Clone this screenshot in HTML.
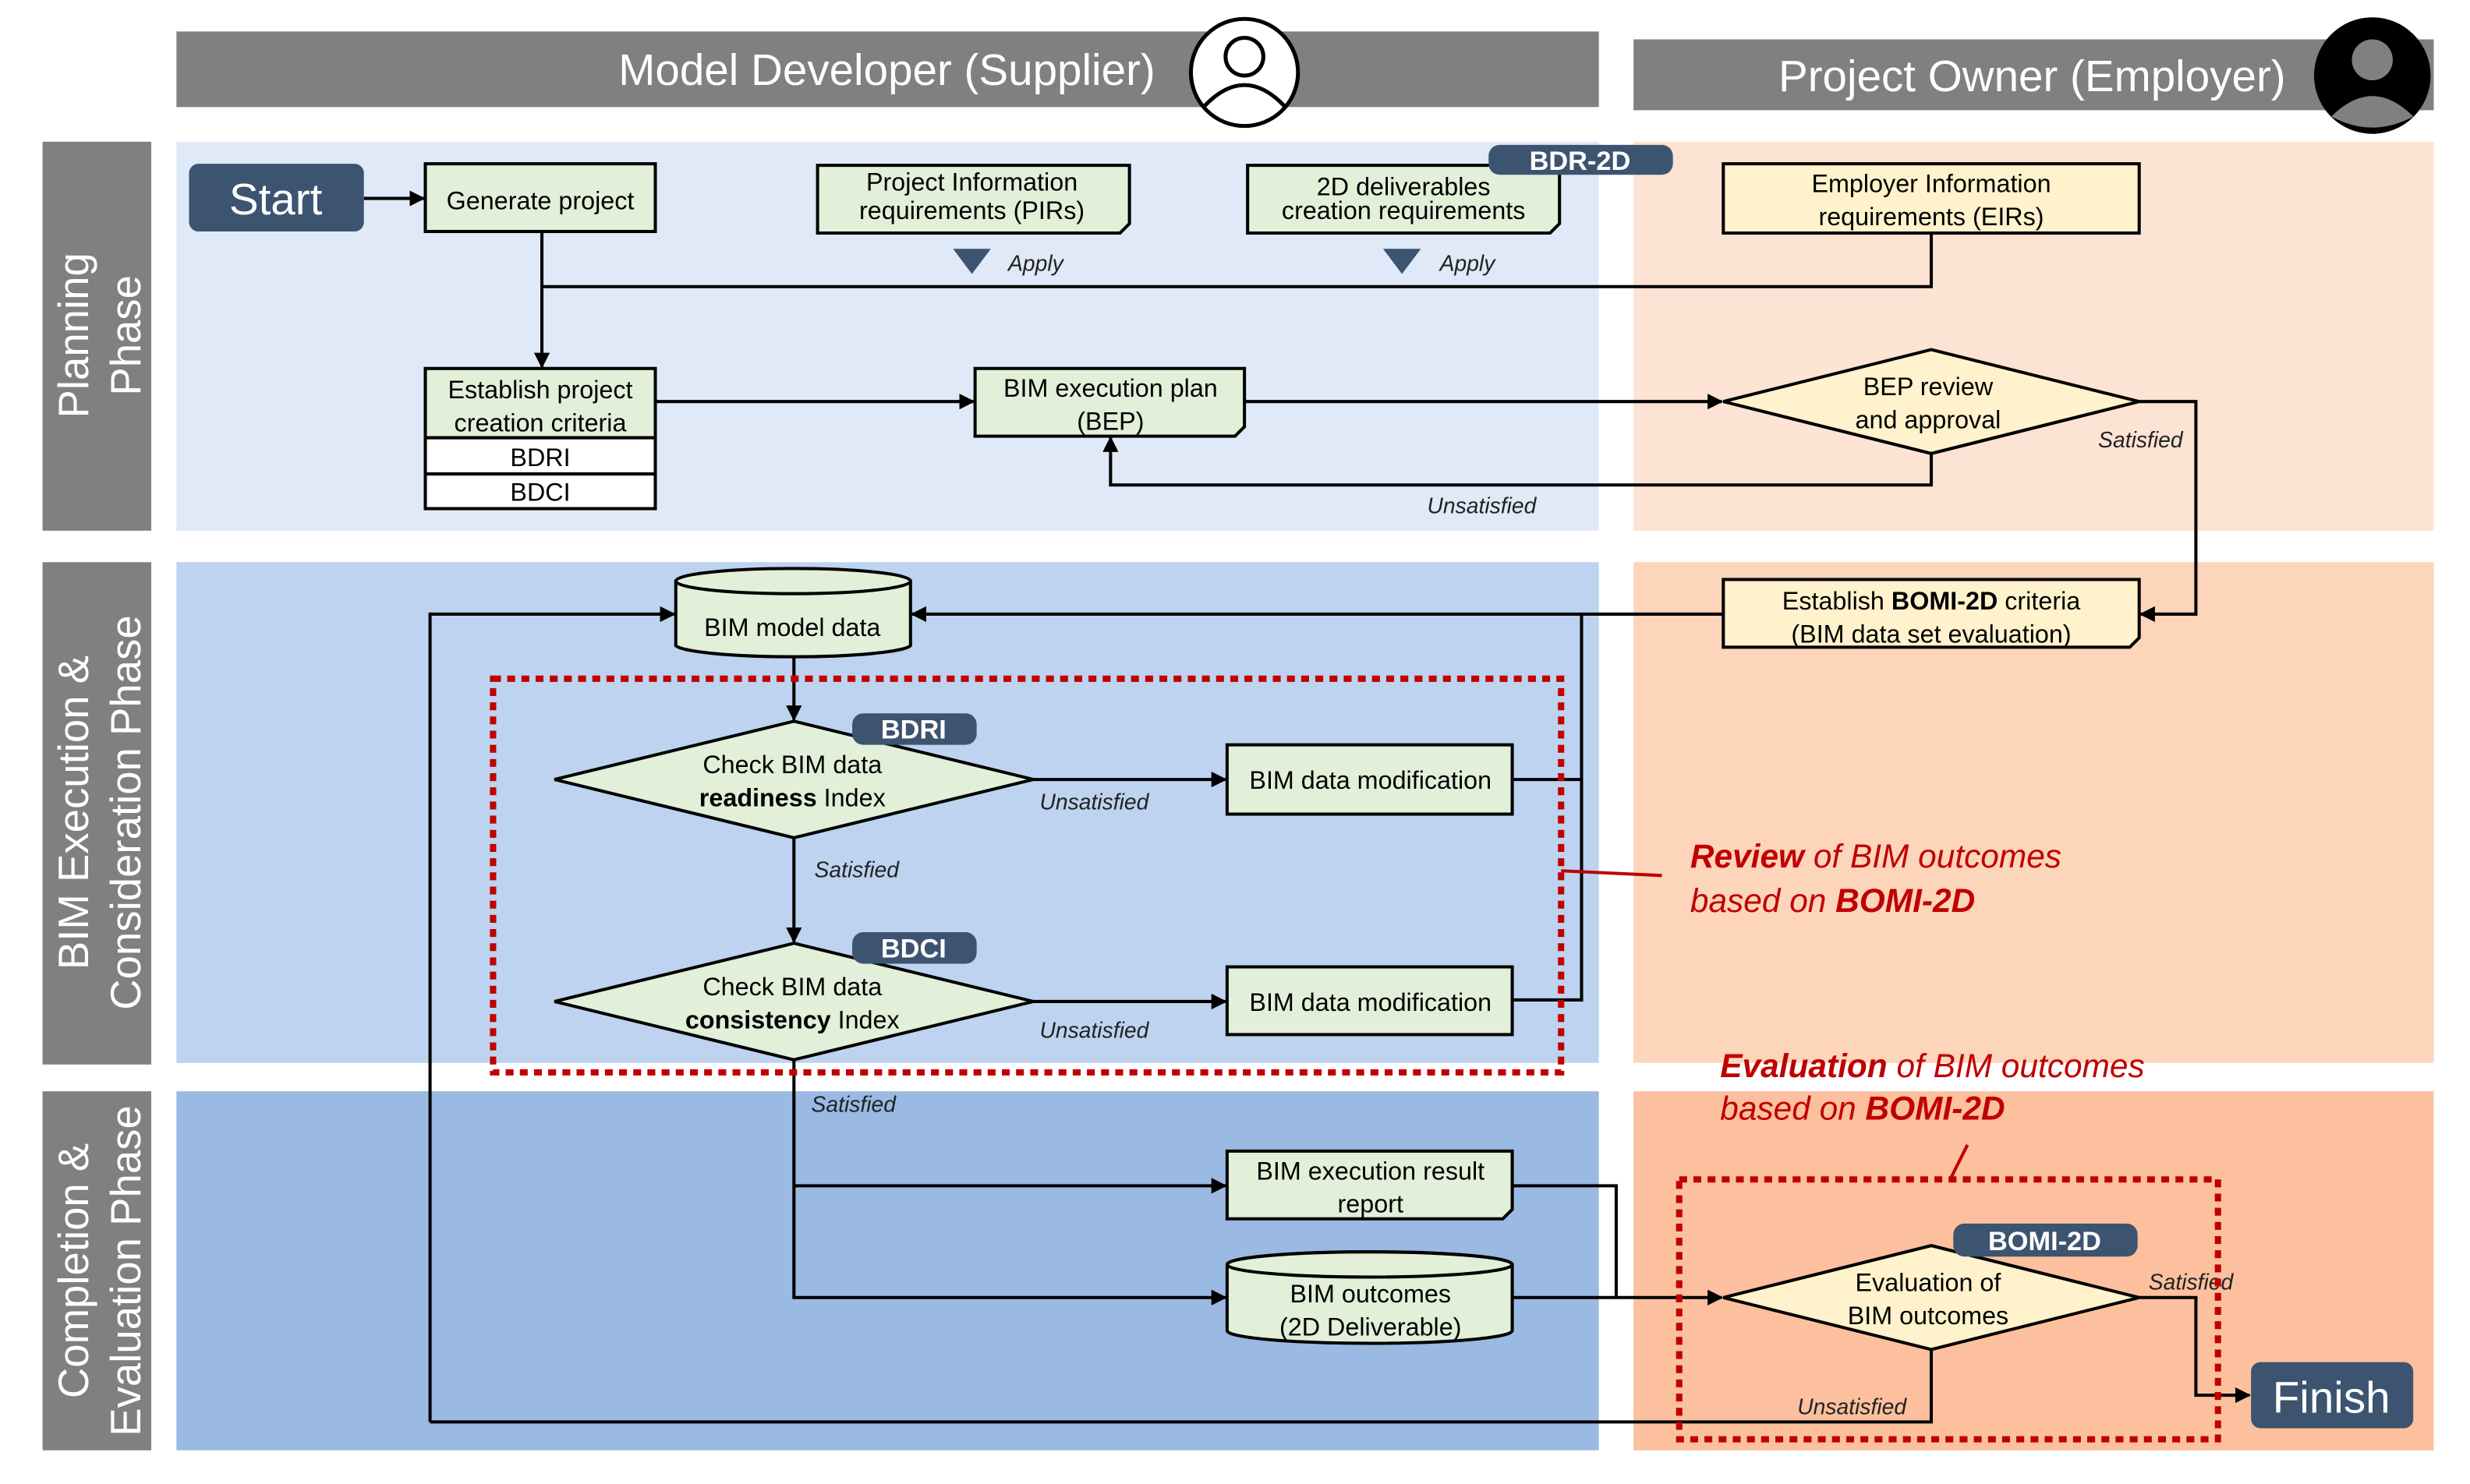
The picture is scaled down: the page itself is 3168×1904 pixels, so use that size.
<!DOCTYPE html>
<html><head><meta charset="utf-8"><style>
html,body{margin:0;padding:0;background:#fff;}
svg{display:block;font-family:"Liberation Sans",Arial,sans-serif;}
</style></head><body>
<svg width="3168" height="1904" viewBox="0 0 1568 942.4" xmlns="http://www.w3.org/2000/svg">
<defs>
<marker id="a" viewBox="0 0 10 10" refX="9" refY="5" markerWidth="10" markerHeight="10" orient="auto-start-reverse" markerUnits="userSpaceOnUse"><path d="M0,0L10,5L0,10z" fill="#000"/></marker>
</defs>
<rect width="1568" height="943" fill="#fff"/>
<rect x="112" y="20" width="903" height="48" fill="#808080"/>
<text x="563" y="54" font-size="28" fill="#fff" text-anchor="middle">Model Developer (Supplier)</text>
<circle cx="790" cy="46" r="34" fill="#fff" stroke="#000" stroke-width="2.5"/>
<circle cx="790" cy="36" r="12" fill="none" stroke="#000" stroke-width="2.5"/>
<path d="M764,68 Q790,40 816,68" fill="none" stroke="#000" stroke-width="2.5"/>
<rect x="1037" y="25" width="508" height="45" fill="#808080"/>
<text x="1290" y="58" font-size="28" fill="#fff" text-anchor="middle">Project Owner (Employer)</text>
<circle cx="1506" cy="48" r="37" fill="#000"/>
<circle cx="1506" cy="38" r="13" fill="#808080"/>
<path d="M1480,74 Q1506,48 1532,74 Q1506,88 1480,74z" fill="#808080"/>
<rect x="27" y="90" width="69" height="247" fill="#808080"/>
<rect x="27" y="357" width="69" height="319" fill="#808080"/>
<rect x="27" y="693" width="69" height="228" fill="#808080"/>
<g fill="#fff" font-size="27" text-anchor="middle">
<text transform="translate(56,213) rotate(-90)">Planning</text>
<text transform="translate(89,213) rotate(-90)">Phase</text>
<text transform="translate(56,516) rotate(-90)">BIM Execution &amp;</text>
<text transform="translate(89,516) rotate(-90)">Consideration Phase</text>
<text transform="translate(56,807) rotate(-90)">Completion &amp;</text>
<text transform="translate(89,807) rotate(-90)">Evaluation Phase</text>
</g>
<rect x="112" y="90" width="903" height="247" fill="#dfe9f7"/>
<rect x="1037" y="90" width="508" height="247" fill="#fde3d3"/>
<rect x="112" y="357" width="903" height="318" fill="#bdd3ef"/>
<rect x="1037" y="357" width="508" height="318" fill="#fdd5bb"/>
<rect x="112" y="693" width="903" height="228" fill="#9ab9e3"/>
<rect x="1037" y="693" width="508" height="228" fill="#fcc09e"/>

<g stroke="#000" stroke-width="2" fill="none">
<line x1="231" y1="126" x2="269" y2="126" marker-end="url(#a)"/>
<line x1="344" y1="147" x2="344" y2="233" marker-end="url(#a)"/>
<polyline points="344,182 1226,182 1226,148"/>
<line x1="416" y1="255" x2="618" y2="255" marker-end="url(#a)"/>
<line x1="790" y1="255" x2="1093" y2="255" marker-end="url(#a)"/>
<polyline points="1226,288 1226,308 705,308 705,278" marker-end="url(#a)"/>
<polyline points="1358,255 1394,255 1394,390 1359,390" marker-end="url(#a)"/>
<line x1="1094" y1="390" x2="579" y2="390" marker-end="url(#a)"/>
<polyline points="1004,390 1004,635 960,635"/>
<line x1="960" y1="495" x2="1004" y2="495"/>
<polyline points="273,903 273,390 428,390" marker-end="url(#a)"/>
<line x1="504" y1="418" x2="504" y2="457" marker-end="url(#a)"/>
<line x1="656" y1="495" x2="778" y2="495" marker-end="url(#a)"/>
<line x1="504" y1="532" x2="504" y2="598" marker-end="url(#a)"/>
<line x1="656" y1="636" x2="778" y2="636" marker-end="url(#a)"/>
<polyline points="504,673 504,824 778,824" marker-end="url(#a)"/>
<line x1="504" y1="753" x2="778" y2="753" marker-end="url(#a)"/>
<polyline points="960,753 1026,753 1026,824"/>
<line x1="960" y1="824" x2="1093" y2="824" marker-end="url(#a)"/>
<polyline points="1358,824 1394,824 1394,886 1428,886" marker-end="url(#a)"/>
<polyline points="1226,857 1226,903 273,903"/>
</g>

<rect x="120" y="104" width="111" height="43" rx="6" fill="#3d5470"/>
<text x="175" y="136" font-size="28" fill="#fff" text-anchor="middle">Start</text>
<rect x="1429" y="865" width="103" height="42" rx="6" fill="#3d5470"/>
<text x="1480" y="897" font-size="28" fill="#fff" text-anchor="middle">Finish</text>

<g stroke="#000" stroke-width="2" fill="#e2efd9">
<rect x="270" y="104" width="146" height="43"/>
<path d="M519,105H717V142L711,148H519z"/>
<path d="M792,105H990V142L984,148H792z"/>
<rect x="270" y="234" width="146" height="44"/>
<rect x="270" y="278" width="146" height="23" fill="#fff"/>
<rect x="270" y="301" width="146" height="22" fill="#fff"/>
<path d="M619,234H790V271L784,277H619z"/>
<rect x="779" y="473" width="181" height="44"/>
<rect x="779" y="614" width="181" height="43"/>
<path d="M779,731H960V768L954,774H779z"/>
<path d="M429,369 A75,8 0 0 1 578,369 V410 A75,8 0 0 1 429,410z"/>
<ellipse cx="503.5" cy="369" rx="74.5" ry="8"/>
<path d="M779,803 A90,8 0 0 1 960,803 V845 A90,8 0 0 1 779,845z"/>
<ellipse cx="869.5" cy="803" rx="90.5" ry="8"/>
<polygon points="352,495 504,458 656,495 504,532"/>
<polygon points="352,636 504,599 656,636 504,673"/>
<rect x="1094" y="104" width="264" height="44" fill="#fff2cc"/>
<polygon points="1094,255 1226,222 1358,255 1226,288" fill="#fff2cc"/>
<path d="M1094,368H1358V405L1352,411H1094z" fill="#fff2cc"/>
<polygon points="1094,824 1226,791 1358,824 1226,857" fill="#fff2cc"/>
</g>

<g fill="#3d5470">
<rect x="945" y="92" width="117" height="19" rx="7"/>
<rect x="541" y="453" width="79" height="20" rx="7"/>
<rect x="541" y="592" width="79" height="20" rx="7"/>
<rect x="1240" y="777" width="117" height="21" rx="7"/>
</g>
<g fill="#fff" font-size="17" font-weight="bold" text-anchor="middle">
<text x="1003" y="108">BDR-2D</text>
<text x="580" y="469">BDRI</text>
<text x="580" y="608">BDCI</text>
<text x="1298" y="794">BOMI-2D</text>
</g>
<polygon points="605,158 629,158 617,174" fill="#3d5470"/>
<polygon points="878,158 902,158 890,174" fill="#3d5470"/>

<g font-size="16" text-anchor="middle" fill="#000">
<text x="343" y="133">Generate project</text>
<text x="617" y="121">Project Information</text>
<text x="617" y="139">requirements (PIRs)</text>
<text x="891" y="124">2D deliverables</text>
<text x="891" y="139">creation requirements</text>
<text x="1226" y="122">Employer Information</text>
<text x="1226" y="143">requirements (EIRs)</text>
<text x="343" y="253">Establish project</text>
<text x="343" y="274">creation criteria</text>
<text x="343" y="296">BDRI</text>
<text x="343" y="318">BDCI</text>
<text x="705" y="252">BIM execution plan</text>
<text x="705" y="273">(BEP)</text>
<text x="1224" y="251">BEP review</text>
<text x="1224" y="272">and approval</text>
<text x="1226" y="387">Establish <tspan font-weight="bold">BOMI-2D</tspan> criteria</text>
<text x="1226" y="408">(BIM data set evaluation)</text>
<text x="503" y="404">BIM model data</text>
<text x="503" y="491">Check BIM data</text>
<text x="503" y="512"><tspan font-weight="bold">readiness</tspan> Index</text>
<text x="503" y="632">Check BIM data</text>
<text x="503" y="653"><tspan font-weight="bold">consistency</tspan> Index</text>
<text x="870" y="501">BIM data modification</text>
<text x="870" y="642">BIM data modification</text>
<text x="870" y="749">BIM execution result</text>
<text x="870" y="770">report</text>
<text x="870" y="827">BIM outcomes</text>
<text x="870" y="848">(2D Deliverable)</text>
<text x="1224" y="820">Evaluation of</text>
<text x="1224" y="841">BIM outcomes</text>
</g>
<g font-size="14" font-style="italic" fill="#222">
<text x="640" y="172">Apply</text>
<text x="914" y="172">Apply</text>
<text x="906" y="326">Unsatisfied</text>
<text x="1332" y="284">Satisfied</text>
<text x="660" y="514">Unsatisfied</text>
<text x="517" y="557">Satisfied</text>
<text x="660" y="659">Unsatisfied</text>
<text x="515" y="706">Satisfied</text>
<text x="1364" y="819">Satisfied</text>
<text x="1141" y="898">Unsatisfied</text>
</g>

<g stroke="#c00000" fill="none">
<rect x="313" y="431" width="678" height="250" stroke-width="4" stroke-dasharray="5,4"/>
<rect x="1066" y="749" width="342" height="165" stroke-width="4" stroke-dasharray="5,4"/>
<line x1="991" y1="553" x2="1055" y2="556" stroke-width="2"/>
<line x1="1238" y1="749" x2="1249" y2="727" stroke-width="2"/>
</g>
<g fill="#c00000" font-size="21" font-style="italic">
<text x="1073" y="551"><tspan font-weight="bold">Review</tspan> of BIM outcomes</text>
<text x="1073" y="579">based on <tspan font-weight="bold">BOMI-2D</tspan></text>
<text x="1092" y="684"><tspan font-weight="bold">Evaluation</tspan> of BIM outcomes</text>
<text x="1092" y="711">based on <tspan font-weight="bold">BOMI-2D</tspan></text>
</g>
</svg>
</body></html>
